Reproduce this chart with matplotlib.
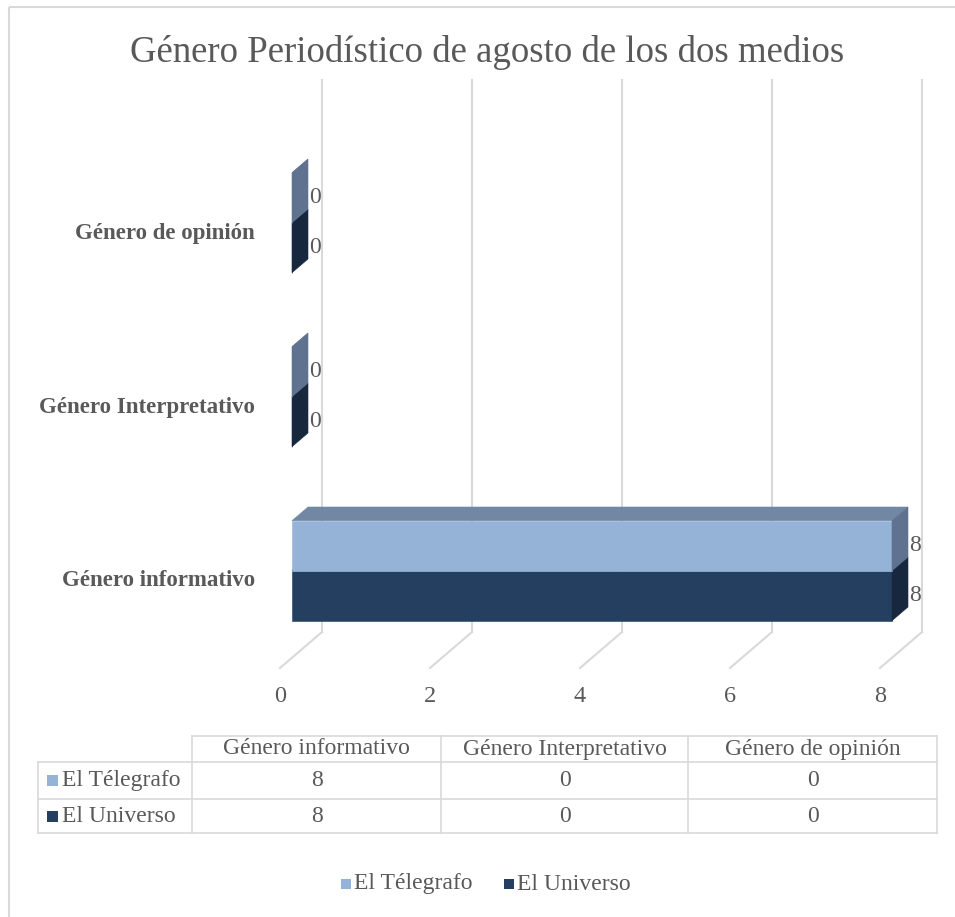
import matplotlib
matplotlib.use('Agg')
import matplotlib.pyplot as plt
from matplotlib.patches import Polygon, Rectangle

plt.rcParams['font.family'] = ['Liberation Serif', 'DejaVu Serif']

TITLE = 'Género Periodístico de agosto de los dos medios'
categories = ['Género informativo', 'Género Interpretativo', 'Género de opinión']
series_names = ['El Télegrafo', 'El Universo']
telegrafo = [8, 0, 0]
universo = [8, 0, 0]
x_ticks = [0, 2, 4, 6, 8]

TEXT = '#595959'
GRID = '#D9D9D9'
LIGHT = {'front': '#95B3D7', 'top': '#7187A3', 'side': '#5F7390'}
DARK = {'front': '#243F60', 'top': '#1C3250', 'side': '#17283E'}

W, H = 955, 917
# pixel mapping of the front plane: value 0 -> x 280, 75 px per unit; category 0 -> y 581, 174 px per category
X0, XS = 280, 75
Y0, YS = 581, 174
DX, DY = 42 / XS, 36 / YS          # full floor depth in data units
D0, D1 = 12 / 42, 28 / 42          # bar depth range (fraction of floor depth)
BAR_H = 50 / YS


def proj(v, c, d):
    return (v + d * DX, c + d * DY)


def draw_bar(ax, v, c0, c1, cols):
    front = [proj(0, c0, D0), proj(v, c0, D0), proj(v, c1, D0), proj(0, c1, D0)]
    top = [proj(0, c1, D0), proj(v, c1, D0), proj(v, c1, D1), proj(0, c1, D1)]
    side = [proj(v, c0, D0), proj(v, c0, D1), proj(v, c1, D1), proj(v, c1, D0)]
    for pts, key in ((top, 'top'), (front, 'front'), (side, 'side')):
        ax.add_patch(Polygon(pts, closed=True, facecolor=cols[key],
                             edgecolor=cols[key], linewidth=0.4, zorder=3))


fig = plt.figure(figsize=(W / 100, H / 100), dpi=100)
ax = fig.add_axes([0, 0, 1, 1])
ax.set_xlim(-X0 / XS, (W - X0) / XS)
ax.set_ylim((Y0 - H) / YS, Y0 / YS)
ax.axis('off')

# back wall gridlines and floor lines
wall_top = (Y0 - 36 - 80) / YS
for v in x_ticks:
    fx, fy = proj(v, -0.5, 0)
    bx, by = proj(v, -0.5, 1)
    ax.plot([fx, bx], [fy, by], color=GRID, lw=1.5, zorder=1)
    ax.plot([bx, bx], [by, wall_top + DY], color=GRID, lw=1.5, zorder=1)
    ax.text(v, (Y0 - 697) / YS, str(v), ha='center', va='center',
            fontsize=17.5, color=TEXT)

# bars
for i, cat in enumerate(categories):
    draw_bar(ax, universo[i], i - BAR_H, i, DARK)
    draw_bar(ax, telegrafo[i], i, i + BAR_H, LIGHT)
    for val, cy in ((telegrafo[i], i + BAR_H / 2), (universo[i], i - BAR_H / 2)):
        lx, ly = proj(val, cy, D1)
        ax.text(lx + 0.01, cy + D0 * DY, str(val), ha='left', va='center',
                fontsize=17, color=TEXT, zorder=4)
    ax.text((255 - X0) / XS, i, cat, ha='right', va='center',
            fontsize=16.5, fontweight='bold', color=TEXT)

# pixel overlay for frame, title, data table and legend
ov = fig.add_axes([0, 0, 1, 1])
ov.set_xlim(0, W)
ov.set_ylim(H, 0)
ov.axis('off')
ov.patch.set_alpha(0)

ov.add_patch(Rectangle((9, 7), 1000, 1000, fill=False, edgecolor=GRID, lw=1.5))
ov.text(487, 52, TITLE, ha='center', va='center', fontsize=26.5, color=TEXT)

col_x = [38, 192, 441, 688, 937]
row_y = [736, 762, 799, 833]
ov.plot([col_x[1], col_x[-1]], [row_y[0], row_y[0]], color=GRID, lw=1.2)
for y in row_y[1:]:
    ov.plot([col_x[0], col_x[-1]], [y, y], color=GRID, lw=1.2)
ov.plot([col_x[0], col_x[0]], [row_y[1], row_y[-1]], color=GRID, lw=1.2)
for x in col_x[1:]:
    ov.plot([x, x], [row_y[0], row_y[-1]], color=GRID, lw=1.2)

for j, cat in enumerate(categories):
    cx = (col_x[j + 1] + col_x[j + 2]) / 2
    ov.text(cx, (row_y[0] + row_y[1]) / 2, cat, ha='center', va='center',
            fontsize=17, color=TEXT)
rows = [(series_names[0], telegrafo, LIGHT['front']),
        (series_names[1], universo, DARK['front'])]
for r, (name, vals, col) in enumerate(rows):
    cy = (row_y[r + 1] + row_y[r + 2]) / 2
    ov.add_patch(Rectangle((47, cy - 5.5), 11, 11, facecolor=col, edgecolor='none'))
    ov.text(62, cy, name, ha='left', va='center', fontsize=17, color=TEXT)
    for j, v in enumerate(vals):
        cx = (col_x[j + 1] + col_x[j + 2]) / 2
        ov.text(cx, cy, str(v), ha='center', va='center', fontsize=17, color=TEXT)

# legend
leg_y = 884
for name, col, x in ((series_names[0], LIGHT['front'], 341), (series_names[1], DARK['front'], 504)):
    ov.add_patch(Rectangle((x, leg_y - 5), 10, 10, facecolor=col, edgecolor='none'))
    ov.text(x + 13, leg_y, name, ha='left', va='center', fontsize=17, color=TEXT)

fig.savefig('out.png', dpi=100)
